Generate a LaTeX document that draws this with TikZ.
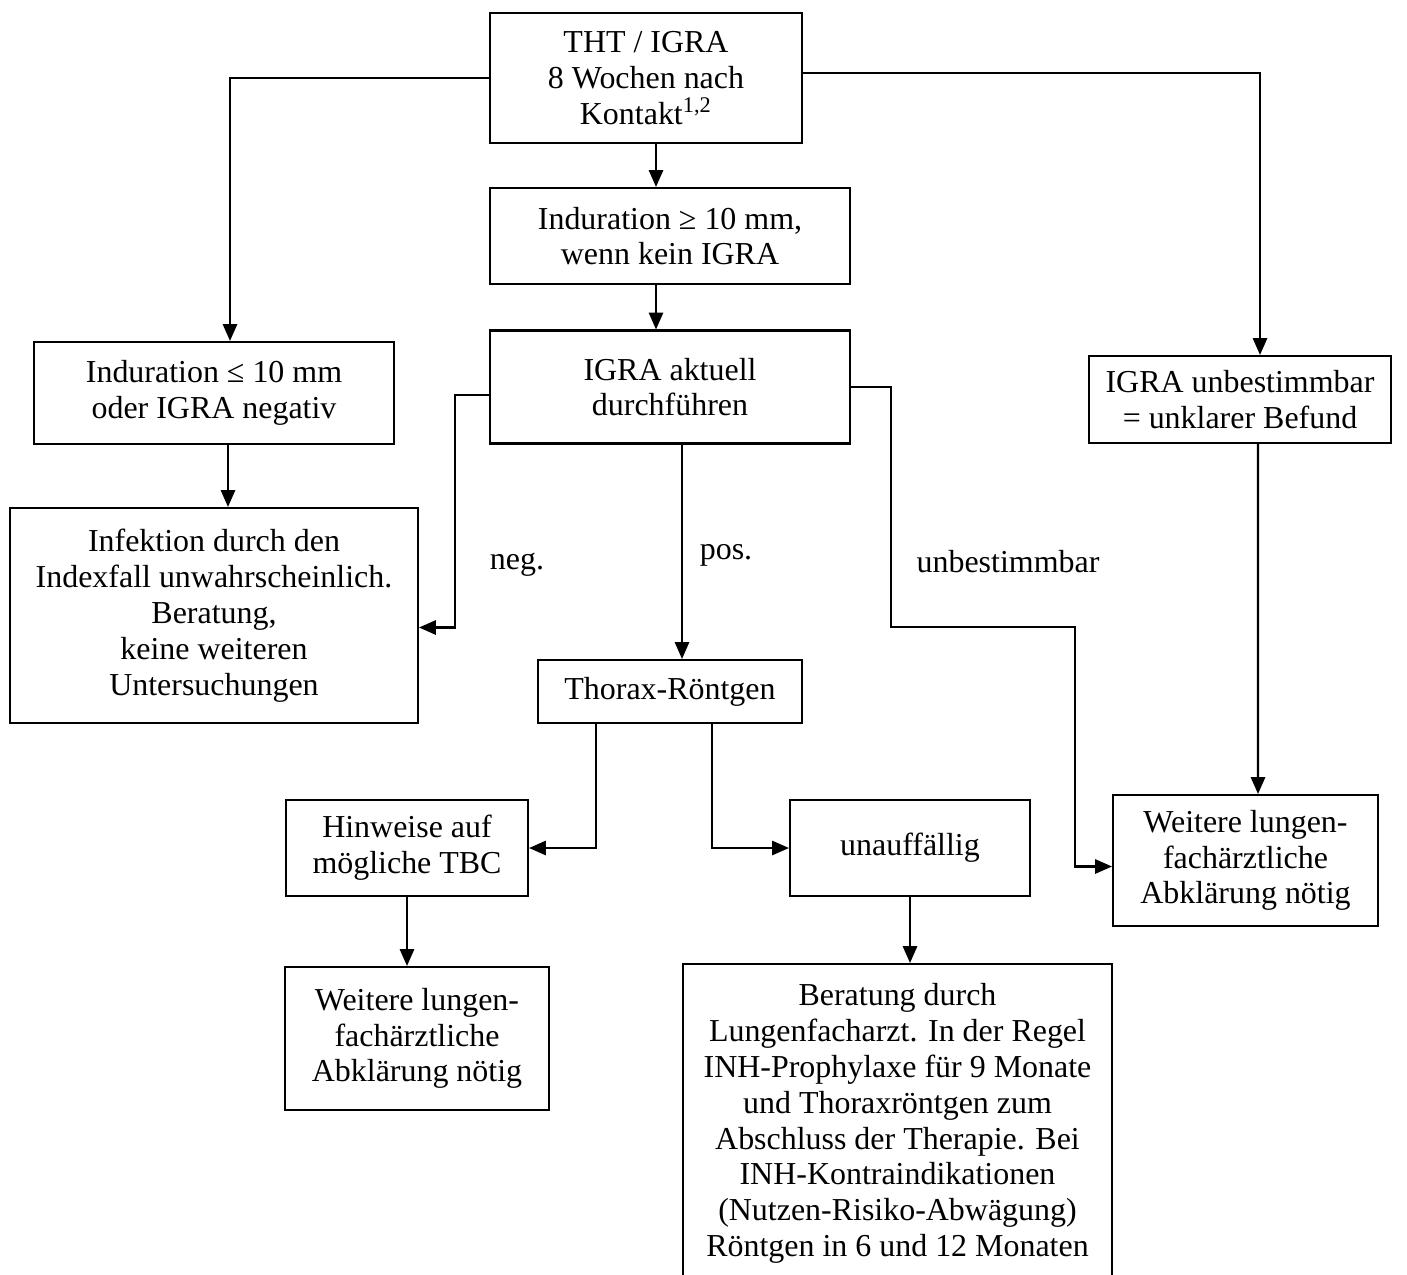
\documentclass[tikz,border=0pt]{standalone}
\usepackage{fontspec}
\setmainfont{Liberation Serif}
\usetikzlibrary{calc,arrows.meta,positioning}
\def\px{0.385pt}
\tikzset{>={Triangle[length=6.5pt,width=5.5pt]}}

\begin{document}
\begin{tikzpicture}[x=\px,y=-\px,line width=0.8pt]
  \tikzstyle{flow_box}=[draw, align=center, inner sep=0pt, font=\fontsize{12.3}{13.8}\selectfont]
  \tikzstyle{flow_label}=[font=\fontsize{12.3}{13.8}\selectfont]
  \useasboundingbox (0,0) rectangle (1407,1274);
  % middle column
  \node[flow_box, minimum width=312*\px, minimum height=130*\px] (tht) at (646,78)
    {THT / IGRA\\8 Wochen nach\\Kontakt\textsuperscript{1,2}};
  \node[flow_box, minimum width=360*\px, minimum height=96*\px] (indge) at (670,236)
    {Induration ≥ 10 mm,\\wenn kein IGRA};
  \node[flow_box, minimum width=360*\px, minimum height=113*\px] (igra) at (670,387)
    {IGRA aktuell\\durchführen};
  \node[flow_box, minimum width=264*\px, minimum height=63*\px] (thorax) at (670,691.5)
    {Thorax-Röntgen};
  \node[flow_box, minimum width=242*\px, minimum height=96*\px] (hinweis) at (407,848)
    {Hinweise auf\\mögliche TBC};
  \node[flow_box, minimum width=240*\px, minimum height=96*\px] (unauff) at (910,848)
    {unauffällig};
  \node[flow_box, minimum width=264*\px, minimum height=143*\px] (abkl_l) at (417,1038.5)
    {Weitere lungen-\\fachärztliche\\Abklärung nötig};
  \node[flow_box, anchor=north, minimum width=429*\px, inner ysep=7.5pt] (regel) at (897.5,963)
    {Beratung durch\\Lungenfacharzt. In der Regel\\INH-Prophylaxe für 9 Monate\\und Thoraxröntgen zum\\Abschluss der Therapie. Bei\\INH-Kontraindikationen\\(Nutzen-Risiko-Abwägung)\\Röntgen in 6 und 12 Monaten\\[30pt]\mbox{}};
  % left column
  \node[flow_box, minimum width=360*\px, minimum height=102*\px] (indle) at (214,393)
    {Induration ≤ 10 mm\\oder IGRA negativ};
  \node[flow_box, minimum width=408*\px, minimum height=215*\px] (infekt) at (214,615.5)
    {Infektion durch den\\Indexfall unwahrscheinlich.\\Beratung,\\keine weiteren\\Untersuchungen};
  % right column
  \node[flow_box, minimum width=302*\px, minimum height=87*\px] (unklar) at (1240,399.5)
    {IGRA unbestimmbar\\= unklarer Befund};
  \node[flow_box, minimum width=265*\px, minimum height=131*\px] (abkl_r) at (1245.5,860.5)
    {Weitere lungen-\\fachärztliche\\Abklärung nötig};
  % branch labels
  \node[flow_label] (neg) at (517,565) {neg.};
  \node[flow_label] (pos) at (726,555) {pos.};
  \node[flow_label] (unbest) at (1008,562) {unbestimmbar};
  % connectors
  \draw[->] ($(tht.south)+(10,0)$) -- ($(indge.north)+(-14,0)$);
  \draw[->] ($(indge.south)+(-14,0)$) -- ($(igra.north)+(-14,0)$);
  \draw[->] (tht.west) -| ($(indle.north)+(16,0)$);
  \draw[->] ($(tht.east)+(0,-5)$) -| ($(unklar.north)+(20,0)$);
  \draw[->] ($(indle.south)+(14,0)$) -- ($(infekt.north)+(14,0)$);
  \draw[->] ($(unklar.south)+(18,0)$) -- ($(abkl_r.north)+(12.5,0)$);
  \draw[->] ($(igra.west)+(0,8)$) -- ++(-34,0) |- ($(infekt.east)+(0,12)$);
  \draw[->] ($(igra.south)+(12,0)$) -- ($(thorax.north)+(12,0)$);
  \draw[->] (igra.east) -- ++(40,0) |- (1075,627) |- ($(abkl_r.west)+(0,6)$);
  \draw[->] ($(thorax.south)+(-74,0)$) |- (hinweis.east);
  \draw[->] ($(thorax.south)+(42,0)$) |- (unauff.west);
  \draw[->] (hinweis.south) -- (hinweis.south |- abkl_l.north);
  \draw[->] (unauff.south) -- (unauff.south |- regel.north);
\end{tikzpicture}
\end{document}
